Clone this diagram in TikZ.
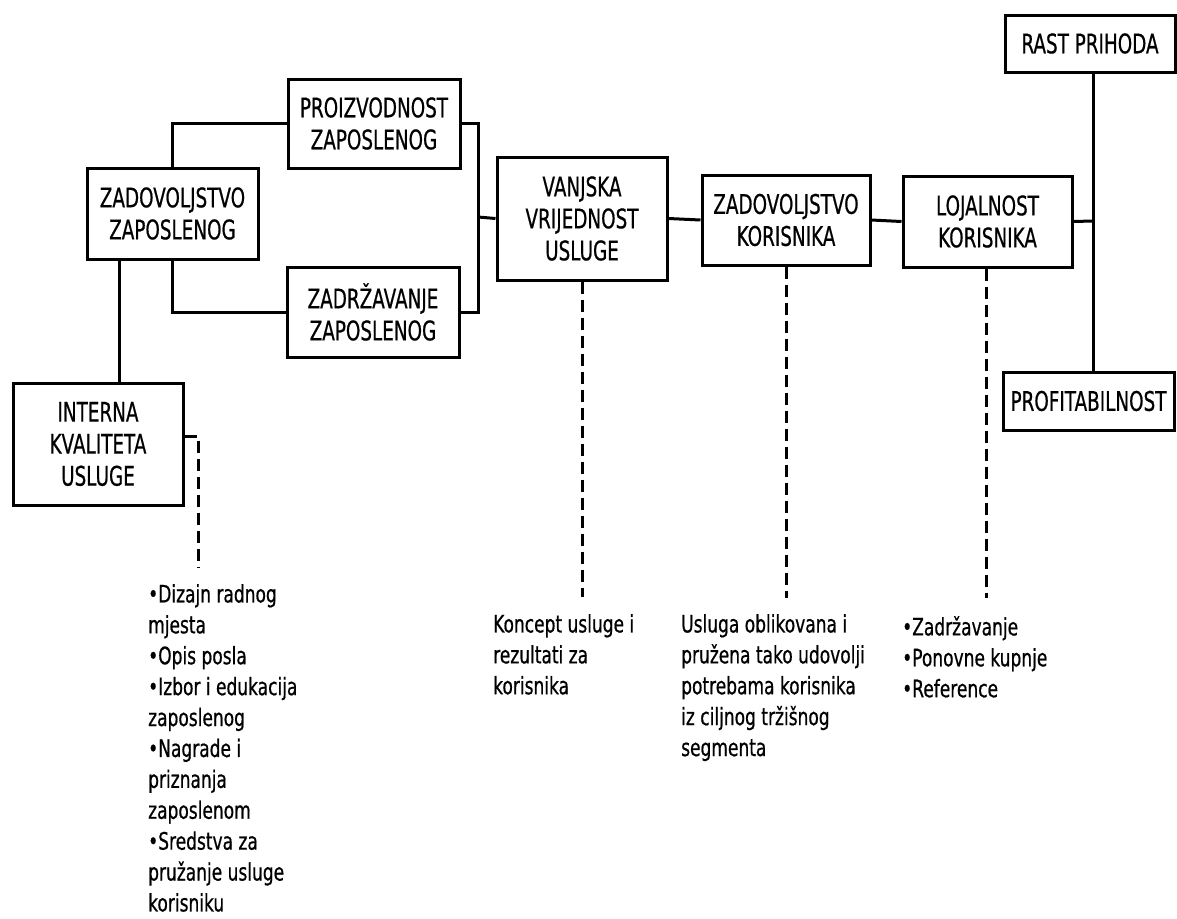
\documentclass[tikz,border=0pt]{standalone}
\usepackage{fontspec}
\setmainfont{DejaVu Sans}
\newfontfamily\boxff[FakeStretch=0.68,FakeBold=0.6]{DejaVu Sans}
\newfontfamily\lstff[FakeStretch=0.71,FakeBold=0.6]{DejaVu Sans}
\newcommand\myboxfont{\boxff\fontsize{27}{32}\selectfont}
\newcommand\mylstfont{\lstff\fontsize{24}{30.9}\selectfont}
\begin{document}
\begin{tikzpicture}[x=1pt,y=-1pt,
  box/.style={draw,line width=3pt,inner sep=0pt,align=center,font=\myboxfont},
  lst/.style={anchor=north west,inner sep=0pt,align=left,font=\mylstfont},
  ln/.style={line width=3pt},
  dsh/.style={line width=3pt,dash pattern=on 12pt off 6pt}]
\useasboundingbox[fill=white] (0,0) rectangle (1177,918);

\node[box,minimum width=171pt,minimum height=91pt] (zadzap) at (172.5,213.5) {ZADOVOLJSTVO\\ZAPOSLENOG};
\node[box,minimum width=172pt,minimum height=89pt] (proiz) at (374,123.5) {PROIZVODNOST\\ZAPOSLENOG};
\node[box,minimum width=172pt,minimum height=90pt] (zadrz) at (373,312) {ZADRŽAVANJE\\ZAPOSLENOG};
\node[box,minimum width=170pt,minimum height=122pt] (interna) at (98,444) {INTERNA\\KVALITETA\\USLUGE};
\node[box,minimum width=170pt,minimum height=123pt] (vanjska) at (582,218.5) {VANJSKA\\VRIJEDNOST\\USLUGE};
\node[box,minimum width=168pt,minimum height=90pt] (zadkor) at (786,220) {ZADOVOLJSTVO\\KORISNIKA};
\node[box,minimum width=169pt,minimum height=91pt] (loj) at (987.5,221.5) {LOJALNOST\\KORISNIKA};
\node[box,minimum width=170pt,minimum height=57pt] (rast) at (1090,43.5) {RAST PRIHODA};
\node[box,minimum width=171pt,minimum height=58pt] (profit) at (1088.5,401) {PROFITABILNOST};

\coordinate (br) at (478,217);
\coordinate (vr) at (1093,221);

\draw[ln] (zadzap.north) |- (proiz.west);
\draw[ln] (zadzap.south) |- (zadrz.west);
\draw[ln] ([xshift=-53.5pt]zadzap.south) -- ([xshift=-53.5pt]zadzap.south |- interna.north);
\draw[ln] (proiz.east) -| (br) |- (zadrz.east);
\draw[ln] (br) -- (vanjska.west);
\draw[ln] (vanjska.east) -- (zadkor.west);
\draw[ln] (zadkor.east) -- (loj.west);
\draw[ln] (vr |- rast.south) -- (vr |- profit.north);
\draw[ln] (loj.east) -- (vr);

\node[lst] (tint) at (148,584) {•Dizajn radnog\\mjesta\\•Opis posla\\•Izbor i edukacija\\zaposlenog\\•Nagrade i\\priznanja\\zaposlenom\\•Sredstva za\\pružanje usluge\\korisniku};
\node[lst] (tvan) at (493,614) {Koncept usluge i\\rezultati za\\korisnika};
\node[lst] (tkor) at (681,614) {Usluga oblikovana i\\pružena tako udovolji\\potrebama korisnika\\iz ciljnog tržišnog\\segmenta};
\node[lst] (tloj) at (902,616) {•Zadržavanje\\•Ponovne kupnje\\•Reference};

\coordinate (ei) at (198,567);
\coordinate (ev) at (582,597);
\coordinate (ek) at (786,598);
\coordinate (el) at (986,598);
\draw[dsh] ([yshift=8pt]interna.east) -| (ei);
\draw[dsh] (vanjska.south) -- (ev);
\draw[dsh] (zadkor.south) -- (ek);
\draw[dsh] (el |- loj.south) -- (el);
\end{tikzpicture}
\end{document}
